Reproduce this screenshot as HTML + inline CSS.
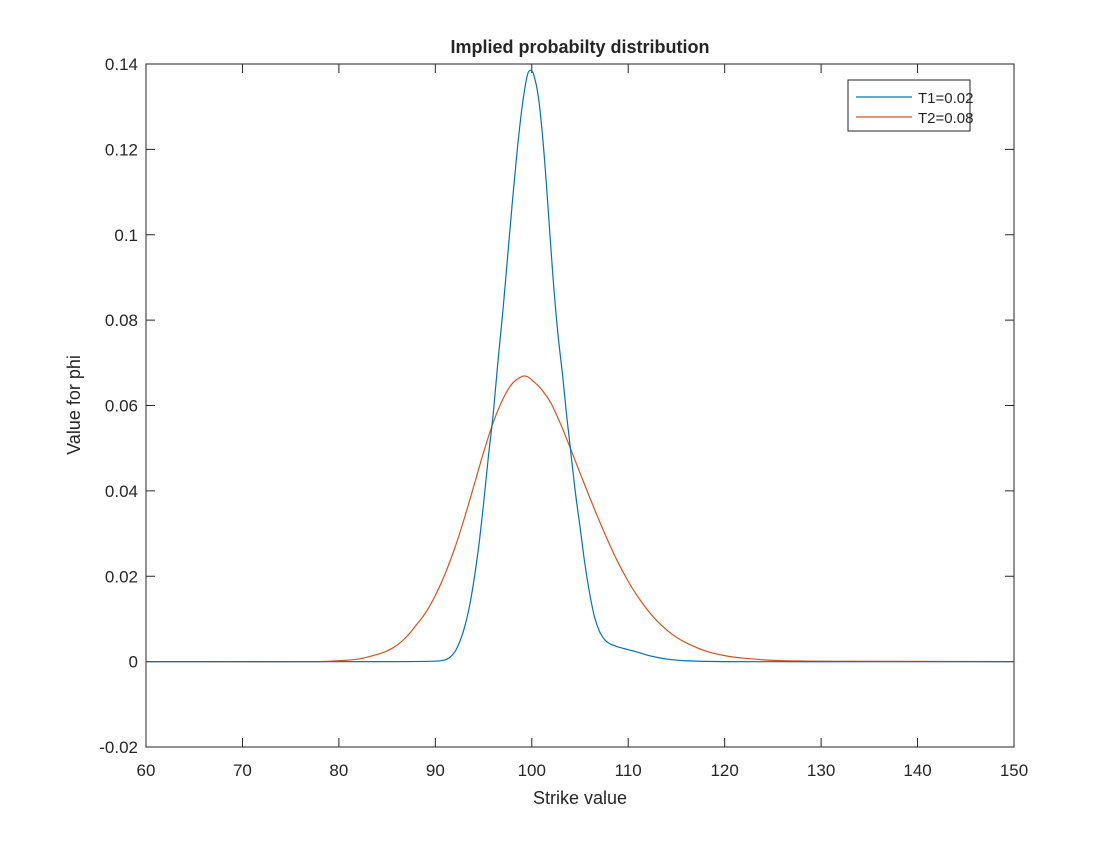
<!DOCTYPE html>
<html><head><meta charset="utf-8"><style>
body{margin:0;background:#fff;}
svg text{font-family:"Liberation Sans",Arial,sans-serif;fill:#262626;}
</style></head><body>
<svg id="chart" width="1120" height="840">
<rect width="1120" height="840" fill="#fff"/>
<g id="grid"></g>
<text x="580" y="53" font-size="18" font-weight="bold" text-anchor="middle">Implied probabilty distribution</text>
<text x="580" y="804" font-size="18" text-anchor="middle">Strike value</text>
<text x="0" y="0" font-size="18" text-anchor="middle" transform="translate(80,405) rotate(-90)">Value for phi</text>
<g id="series"></g>
<g>
<rect x="848" y="80" width="122" height="51" fill="#fff" stroke="#262626" stroke-width="1"/>
<g><line x1="856" y1="97" x2="912" y2="97" stroke="#0072BD" stroke-width="1.2"/><text x="918" y="103" font-size="15">T1=0.02</text></g>
<g><line x1="856" y1="117" x2="912" y2="117" stroke="#D95319" stroke-width="1.2"/><text x="918" y="123" font-size="15">T2=0.08</text></g>
</g>
</svg>
<script>
const xTicks=[60,70,80,90,100,110,120,130,140,150];
const yTicks=[-0.02,0,0.02,0.04,0.06,0.08,0.1,0.12,0.14];
const yTickLabels=["-0.02","0","0.02","0.04","0.06","0.08","0.1","0.12","0.14"];
const t1X=[60,85,90,91,91.5,92,92.5,93,93.5,94,94.5,95,95.5,96,96.5,97,97.5,98,98.5,99,99.5,99.8,100.2,100.7,101.2,101.7,102.2,102.7,103.2,103.6,104,104.5,105,105.5,106,106.5,107,107.5,108,109,110,111,112,113,114,116,120,150];
const t1Y=[0,0,0.0001,0.0004,0.001,0.0022,0.0045,0.0078,0.0125,0.019,0.027,0.037,0.048,0.058,0.0705,0.082,0.095,0.108,0.12,0.13,0.137,0.1385,0.1375,0.132,0.121,0.106,0.09,0.077,0.067,0.058,0.05,0.04,0.0316,0.023,0.016,0.0105,0.0072,0.0053,0.0043,0.0034,0.0028,0.0022,0.0015,0.001,0.0006,0.0002,0,0];
const t2X=[60,78,80,82,84,85,86,87,88,89,90,91,92,93,94,95,96,97,98,99,99.5,100,101,102,103,104,105,106,107,108,109,110,111,112,113,114,115,116,118,120,122,125,130,150];
const t2Y=[0,0,0.0002,0.0006,0.0017,0.0025,0.0038,0.0058,0.0085,0.0115,0.0155,0.0205,0.0265,0.0335,0.0412,0.049,0.056,0.0615,0.0652,0.0668,0.0668,0.066,0.0638,0.0605,0.0556,0.05,0.0442,0.0385,0.033,0.0278,0.023,0.0188,0.0152,0.0121,0.0095,0.0074,0.0057,0.0044,0.0025,0.0014,0.0008,0.0003,0.0001,0];
const L=146,R=1014,T=64,B=747;
const sx=v=>L+(v-60)/90*(R-L);
const sy=v=>B-(v+0.02)/0.16*(B-T);
const NS="http://www.w3.org/2000/svg";
const grid=document.getElementById('grid');
function mk(tag,at,parent){const e=document.createElementNS(NS,tag);for(const k in at)e.setAttribute(k,at[k]);parent.appendChild(e);return e;}
const box=mk('rect',{x:L,y:T,width:R-L,height:B-T,fill:'none',stroke:'#262626','stroke-width':1},grid);


xTicks.forEach(v=>{const x=sx(v);
 mk('line',{x1:x,y1:B,x2:x,y2:B-9,stroke:'#262626'},grid);
 mk('line',{x1:x,y1:T,x2:x,y2:T+9,stroke:'#262626'},grid);
 const t=mk('text',{x:x,y:B+29,'font-size':17,'text-anchor':'middle'},grid);t.textContent=v;
 
 });
yTicks.forEach((v,i)=>{const y=sy(v);
 mk('line',{x1:L,y1:y,x2:L+9,y2:y,stroke:'#262626'},grid);
 mk('line',{x1:R,y1:y,x2:R-9,y2:y,stroke:'#262626'},grid);
 const t=mk('text',{x:L-8,y:y+6,'font-size':17,'text-anchor':'end'},grid);t.textContent=yTickLabels[i];
 
 });
function path(xs,ys){const p=xs.map((x,i)=>[sx(x),sy(ys[i])]);let d='M'+p[0][0]+','+p[0][1];
 for(let i=0;i<p.length-1;i++){const p0=p[Math.max(0,i-1)],p1=p[i],p2=p[i+1],p3=p[Math.min(p.length-1,i+2)];
  const h=p2[0]-p1[0];
  const m1=(p2[1]-p0[1])/(p2[0]-p0[0]||1),m2=(p3[1]-p1[1])/(p3[0]-p1[0]||1);
  const c1=[p1[0]+h/3,p1[1]+m1*h/3],c2=[p2[0]-h/3,p2[1]-m2*h/3];
  d+=' C'+c1+' '+c2+' '+p2;}return d;}
const s=document.getElementById('series');
const l2=mk('path',{d:path(t2X,t2Y),fill:'none',stroke:'#D95319','stroke-width':1.2},s);


const l1=mk('path',{d:path(t1X,t1Y),fill:'none',stroke:'#0072BD','stroke-width':1.2},s);


</script>
</body></html>
